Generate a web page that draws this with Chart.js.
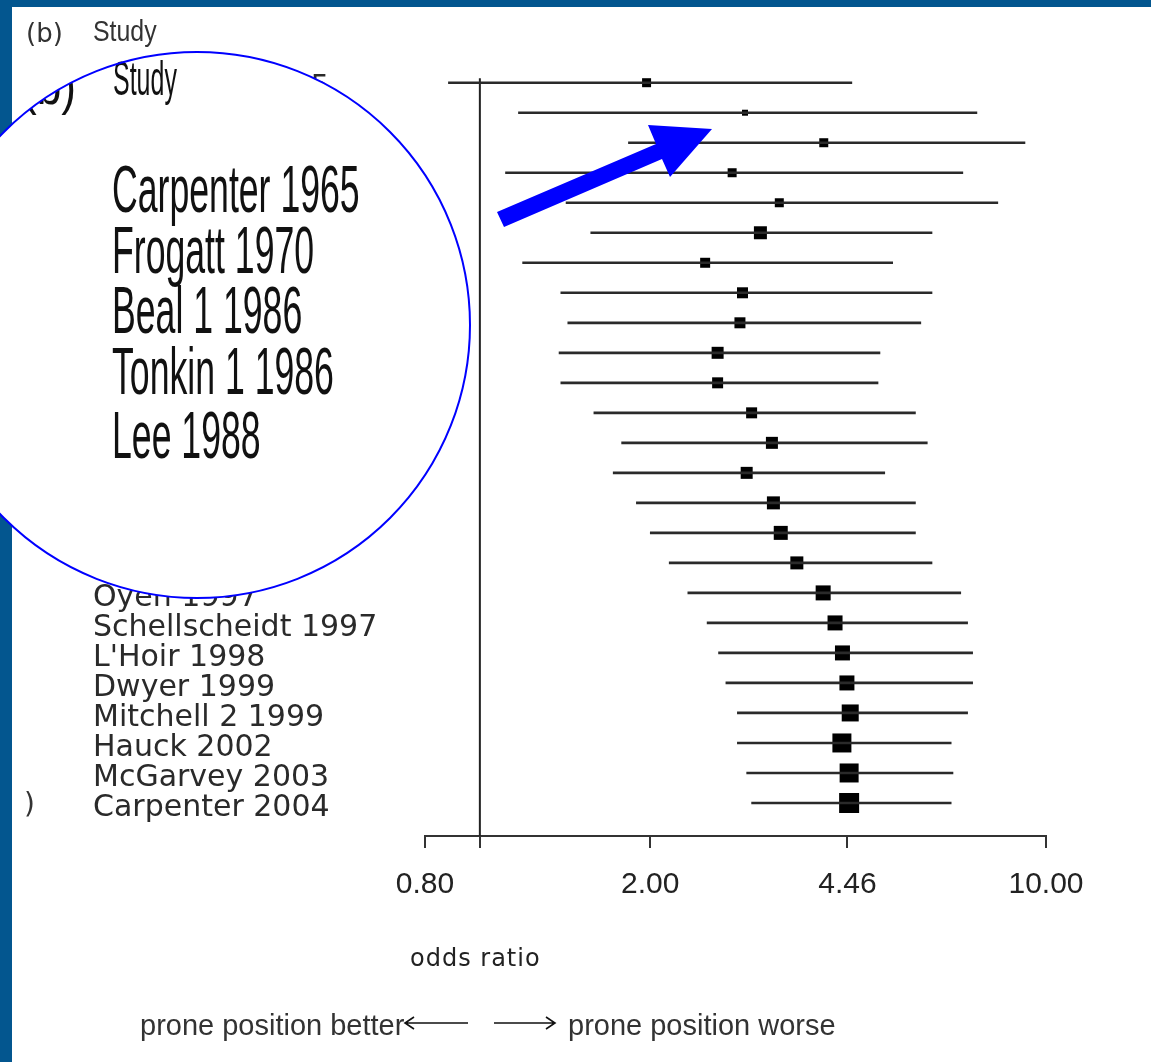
<!DOCTYPE html>
<html>
<head>
<meta charset="utf-8">
<script src="https://cdn.jsdelivr.net/npm/chart.js@4.4.0/dist/chart.umd.min.js"></script>
<style>
  html, body { margin: 0; padding: 0; background: #fff; }
  canvas { display: block; }
</style>
</head>
<body>
<canvas id="forest" width="1151" height="1062"></canvas>
<script>
// studies, top to bottom (rows 6-17 are hidden under the magnifier)
const studies = ['Carpenter 1965', 'Frogatt 1970', 'Beal 1 1986', 'Tonkin 1 1986', 'Lee 1988',
  '', '', '', '', '', '', '', '', '', '', '', '',
  'Oyen 1997', 'Schellscheidt 1997', "L'Hoir 1998", 'Dwyer 1999', 'Mitchell 2 1999',
  'Hauck 2002', 'McGarvey 2003', 'Carpenter 2004'];

// cumulative odds ratio and 95% CI
const oddsRatio = [1.97, 2.94, 4.05, 2.79, 3.38, 3.13, 2.50, 2.91, 2.88, 2.63, 2.63, 3.02, 3.28,
  2.96, 3.30, 3.40, 3.63, 4.04, 4.24, 4.37, 4.45, 4.51, 4.36, 4.49, 4.49];
const ciLow = [0.88, 1.17, 1.83, 1.11, 1.42, 1.57, 1.19, 1.39, 1.43, 1.38, 1.39, 1.59, 1.78,
  1.72, 1.89, 2.00, 2.16, 2.33, 2.52, 2.64, 2.72, 2.85, 2.85, 2.96, 3.02];
const ciHigh = [4.54, 7.55, 9.18, 7.13, 8.22, 6.29, 5.36, 6.29, 6.01, 5.09, 5.05, 5.88, 6.17,
  5.19, 5.88, 5.88, 6.29, 7.07, 7.27, 7.42, 7.42, 7.27, 6.80, 6.85, 6.80];
// relative weight of each row (drawn as box size)
const boxWeights = [9, 6, 9, 9, 9, 13, 10, 11, 11, 12, 11, 11, 12, 12, 13, 14, 13, 15, 15, 15,
  15, 17, 19, 19, 20];

const tickValues = [0.8, 1, 2, 4.46, 10];
const refValue = 1;

const blue = '#0000ff';

// helper: draw condensed text
function narrowText(ctx, text, x, y, font, sx) {
  ctx.save();
  ctx.font = font;
  ctx.translate(x, y);
  ctx.scale(sx, 1);
  ctx.fillText(text, 0, 0);
  ctx.restore();
}

function arrowLine(ctx, x1, x2, y) {
  const d = x2 > x1 ? -9 : 9;
  ctx.beginPath();
  ctx.moveTo(x1, y); ctx.lineTo(x2, y);
  ctx.moveTo(x2 + d, y - 6); ctx.lineTo(x2, y); ctx.lineTo(x2 + d, y + 6);
  ctx.stroke();
}

const decor = {
  id: 'decor',
  beforeDraw(chart) {
    const ctx = chart.ctx;
    ctx.save();
    ctx.fillStyle = '#fff';
    ctx.fillRect(0, 0, chart.width, chart.height);
    ctx.fillStyle = '#03568f';
    ctx.fillRect(0, 0, chart.width, 7);
    ctx.fillRect(0, 0, 12, chart.height);
    ctx.restore();
  },
  afterDraw(chart) {
    const ctx = chart.ctx;
    ctx.save();
    ctx.textBaseline = 'alphabetic';
    ctx.textAlign = 'left';

    // header
    ctx.fillStyle = '#333';
    ctx.font = '26px "DejaVu Sans"';
    ctx.fillText('(b)', 26, 42);
    narrowText(ctx, 'Study', 93, 41, '30px "Liberation Sans"', 0.83);
    ctx.font = '28px "DejaVu Sans"';
    ctx.fillText(')', 24, 813);

    // axis caption and direction
    ctx.fillStyle = '#222';
    ctx.font = '24px "DejaVu Sans"';
    ctx.letterSpacing = '1px';
    ctx.fillText('odds ratio', 410, 966);
    ctx.letterSpacing = '0px';
    ctx.font = '29px "Liberation Sans"';
    ctx.fillStyle = '#333';
    ctx.fillText('prone position better', 140, 1035);
    ctx.fillText('prone position worse', 568, 1035);
    ctx.strokeStyle = '#111';
    ctx.lineWidth = 1.6;
    arrowLine(ctx, 468, 405, 1023);
    arrowLine(ctx, 494, 555, 1023);

    // magnifier
    const cx = 197, cy = 325, r = 273;
    ctx.beginPath();
    ctx.arc(cx, cy, r, 0, Math.PI * 2);
    ctx.fillStyle = '#fff';
    ctx.fill();
    ctx.save();
    ctx.clip();
    ctx.fillStyle = '#111';
    narrowText(ctx, '(b)', 22, 104, '52px "Liberation Sans"', 0.85);
    ctx.restore();
    ctx.fillStyle = '#111';
    narrowText(ctx, 'Study', 113, 95, '49px "Liberation Sans"', 0.51);
    const baselines = [212, 273, 333, 394, 458];
    for (let i = 0; i < 5; i++) {
      narrowText(ctx, studies[i], 112, baselines[i], '66px "Liberation Sans"', 0.54);
    }
    ctx.beginPath();
    ctx.arc(cx, cy, r, 0, Math.PI * 2);
    ctx.strokeStyle = blue;
    ctx.lineWidth = 2;
    ctx.stroke();

    // pointer arrow
    ctx.beginPath();
    ctx.moveTo(497, 212);
    ctx.lineTo(656, 144);
    ctx.lineTo(648, 125);
    ctx.lineTo(712, 129);
    ctx.lineTo(670, 177);
    ctx.lineTo(662, 159);
    ctx.lineTo(504, 227);
    ctx.closePath();
    ctx.fillStyle = blue;
    ctx.fill();
    ctx.restore();
  }
};

const yMin = -0.49, yMax = 25.1;

new Chart(document.getElementById('forest'), {
  data: {
    datasets: [
      {
        type: 'bar',
        indexAxis: 'y',
        data: studies.map((s, i) => ({ x: [ciLow[i], ciHigh[i]], y: i })),
        backgroundColor: '#2a2a2a',
        barThickness: 2,
        borderWidth: 0
      },
      {
        type: 'line',
        data: oddsRatio.map((v, i) => ({ x: v, y: i })),
        showLine: false,
        pointStyle: 'rect',
        pointRadius: boxWeights.map(w => w / Math.SQRT2),
        pointBackgroundColor: '#000',
        pointBorderWidth: 0
      },
      {
        type: 'line',
        data: [{ x: refValue, y: -0.15 }, { x: refValue, y: yMax }],
        borderColor: '#222',
        borderWidth: 2,
        pointRadius: 0
      }
    ]
  },
  options: {
    responsive: false,
    animation: false,
    events: [],
    layout: { padding: { left: 93, right: 105, top: 68, bottom: 0 } },
    plugins: { legend: { display: false }, tooltip: { enabled: false } },
    scales: {
      x: {
        type: 'logarithmic',
        min: 0.8,
        max: 10,
        offset: false,
        afterBuildTicks: scale => { scale.ticks = tickValues.map(v => ({ value: v })); },
        afterFit: scale => { scale.height = 226; },
        grid: { drawOnChartArea: false, tickLength: 12, color: '#333', lineWidth: 2 },
        border: { display: true, color: '#333', width: 2 },
        ticks: {
          autoSkip: false,
          maxRotation: 0,
          padding: 19,
          color: '#222',
          font: { family: 'Liberation Sans', size: 30 },
          callback: v => (v === refValue ? '' : Number(v).toFixed(2))
        }
      },
      y: {
        type: 'linear',
        reverse: true,
        offset: false,
        min: yMin,
        max: yMax,
        afterBuildTicks: scale => { scale.ticks = studies.map((s, i) => ({ value: i })); },
        afterFit: scale => { scale.width = 332; },
        grid: { display: false },
        border: { display: false },
        ticks: {
          autoSkip: false,
          crossAlign: 'far',
          labelOffset: 5,
          color: '#2a2a2a',
          font: { family: 'DejaVu Sans', size: 30 },
          callback: v => studies[v]
        }
      }
    }
  },
  plugins: [decor]
});
</script>
</body>
</html>
